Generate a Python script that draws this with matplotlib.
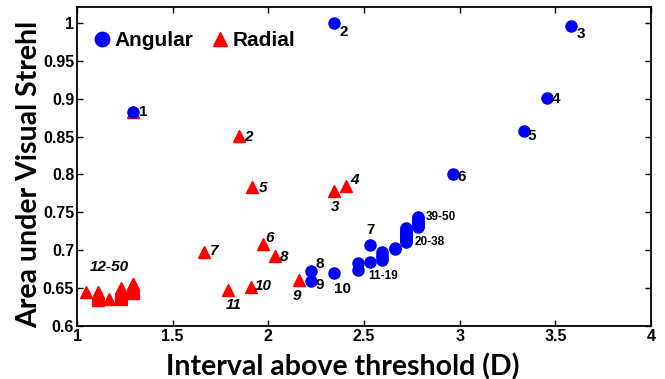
import matplotlib
matplotlib.use("Agg")
from matplotlib import pyplot as plt

# Angular data (blue circles)
ang_x = [1.293, 2.343, 3.582, 3.457, 3.337, 2.965, 2.532, 2.222, 2.222, 2.343,
         # 11-19
         2.47, 2.47, 2.532, 2.595, 2.595, 2.595, 2.595, 2.66, 2.66,
         # 20-38
         2.72, 2.72, 2.72, 2.72, 2.72, 2.72, 2.72, 2.72, 2.72, 2.72,
         2.72, 2.72, 2.72, 2.72, 2.72, 2.72, 2.72, 2.72, 2.72,
         # 39-50
         2.78, 2.78, 2.78, 2.78, 2.78, 2.78, 2.78, 2.78, 2.78, 2.78, 2.78, 2.78]
ang_y = [0.8825, 1.0, 0.996, 0.901, 0.857, 0.800, 0.707, 0.672, 0.659, 0.670,
         0.674, 0.683, 0.684, 0.687, 0.691, 0.694, 0.698, 0.702, 0.703,
         0.711, 0.712, 0.713, 0.714, 0.715, 0.716, 0.717, 0.718, 0.719, 0.720,
         0.721, 0.722, 0.723, 0.724, 0.725, 0.726, 0.727, 0.728, 0.729,
         0.731, 0.732, 0.733, 0.734, 0.735, 0.736, 0.737, 0.738, 0.739, 0.740, 0.742, 0.7435]

# Radial data (red triangles)
rad_x = [1.293, 1.848, 2.343, 2.406, 1.913, 1.971, 1.664, 2.035, 2.160, 1.910, 1.791,
         # 12-50
         1.045,
         1.108, 1.108, 1.108, 1.108, 1.108, 1.108, 1.108, 1.108, 1.108, 1.108,
         1.169,
         1.23, 1.23, 1.23, 1.23, 1.23, 1.23, 1.23, 1.23, 1.23, 1.23, 1.23, 1.23, 1.23, 1.23,
         1.294, 1.294, 1.294, 1.294, 1.294, 1.294, 1.294, 1.294, 1.294, 1.294, 1.294, 1.294, 1.294]
rad_y = [0.8825, 0.851, 0.778, 0.785, 0.783, 0.708, 0.698, 0.692, 0.661, 0.652, 0.648,
         0.6445,
         0.634, 0.635, 0.636, 0.637, 0.638, 0.639, 0.640, 0.641, 0.643, 0.6445,
         0.635,
         0.636, 0.637, 0.638, 0.639, 0.640, 0.641, 0.642, 0.643, 0.644, 0.645, 0.646, 0.647, 0.648, 0.650,
         0.644, 0.645, 0.646, 0.647, 0.648, 0.649, 0.650, 0.651, 0.652, 0.653, 0.654, 0.655, 0.656]

# point labels: (text, x, y, dx px, dy px)
ang_labels = [("1", 1.293, 0.8825, 10, 0), ("2", 2.343, 1.0, 10, -9), ("3", 3.582, 0.996, 10, -8),
              ("4", 3.457, 0.901, 9, -1), ("5", 3.337, 0.857, 8, -5), ("6", 2.965, 0.800, 9, -3),
              ("7", 2.532, 0.707, 0, 15), ("8", 2.222, 0.672, 9, 7), ("9", 2.222, 0.659, 9, -4),
              ("10", 2.343, 0.670, 9, -16)]
ang_small = [("11-19", 2.532, 0.684, -2, -14), ("20-38", 2.72, 0.711, 9, 0), ("39-50", 2.78, 0.742, 8, 1)]
rad_labels = [("2", 1.848, 0.851, 9, -1), ("3", 2.343, 0.778, 1, -16), ("4", 2.406, 0.785, 8, 6),
              ("5", 1.913, 0.783, 11, -1), ("6", 1.971, 0.708, 7, 6), ("7", 1.664, 0.698, 10, 1),
              ("8", 2.035, 0.692, 9, -1), ("9", 2.160, 0.661, -2, -16), ("10", 1.910, 0.652, 12, 1),
              ("11", 1.791, 0.648, 5, -15), ("12-50", 1.17, 0.652, 0, 20)]

fig = plt.figure(figsize=(6.65, 3.79), dpi=100)
ax = fig.add_axes([0.1158, 0.1398, 0.8632, 0.8417])

ax.plot(rad_x, rad_y, "^", color="red", markersize=8, label="Radial", zorder=2)
ax.plot(ang_x, ang_y, "o", color="blue", markersize=8, label="Angular", zorder=3)

for t, x, y, dx, dy in ang_labels:
    ax.annotate(t, (x, y), xytext=(dx, dy), textcoords="offset pixels", fontsize=11,
                fontweight="bold", family="Liberation Sans", ha="center", va="center")
for t, x, y, dx, dy in ang_small:
    ax.annotate(t, (x, y), xytext=(dx, dy), textcoords="offset pixels", fontsize=8.5,
                fontweight="bold", family="Liberation Sans", ha="left", va="center")
for t, x, y, dx, dy in rad_labels:
    ax.annotate(t, (x, y), xytext=(dx, dy), textcoords="offset pixels", fontsize=11,
                fontweight="bold", fontstyle="italic", family="Liberation Sans",
                ha="center", va="center")

ax.set_xlim(1, 4)
ax.set_ylim(0.6, 1.021)
ax.set_xticks([1, 1.5, 2, 2.5, 3, 3.5, 4])
ax.set_xticklabels(["1", "1.5", "2", "2.5", "3", "3.5", "4"])
ax.set_yticks([0.6, 0.65, 0.7, 0.75, 0.8, 0.85, 0.9, 0.95, 1])
ax.set_yticklabels(["0.6", "0.65", "0.7", "0.75", "0.8", "0.85", "0.9", "0.95", "1"])
ax.tick_params(direction="in", top=True, right=True, length=4, width=1, pad=2)
for lab in ax.get_xticklabels() + ax.get_yticklabels():
    lab.set_fontfamily("Liberation Sans")
    lab.set_fontweight("bold")
    lab.set_fontsize(11.5)
for s in ax.spines.values():
    s.set_linewidth(1.3)

ax.set_xlabel("Interval above threshold (D)", fontsize=20.5, fontweight="bold",
              family="Lato", labelpad=2)
ax.xaxis.set_label_coords(0.462, -0.085, transform=ax.transAxes)
ax.xaxis.label.set_va("top")
ax.set_ylabel("Area under Visual Strehl", fontsize=20.5, fontweight="bold",
              family="Lato", labelpad=3)
ax.yaxis.set_label_coords(-0.06, 0.475, transform=ax.transAxes)

h, l = ax.get_legend_handles_labels()
ax.legend(h[::-1], l[::-1], loc="upper left", ncol=2, frameon=False,
          prop={"family": "Liberation Sans", "weight": "bold", "size": 15},
          handletextpad=0.1, columnspacing=0.8, handlelength=1.0,
          markerscale=1.3, borderaxespad=0.3, bbox_to_anchor=(0.0, 0.97))

fig.savefig("out.png", dpi=100)
